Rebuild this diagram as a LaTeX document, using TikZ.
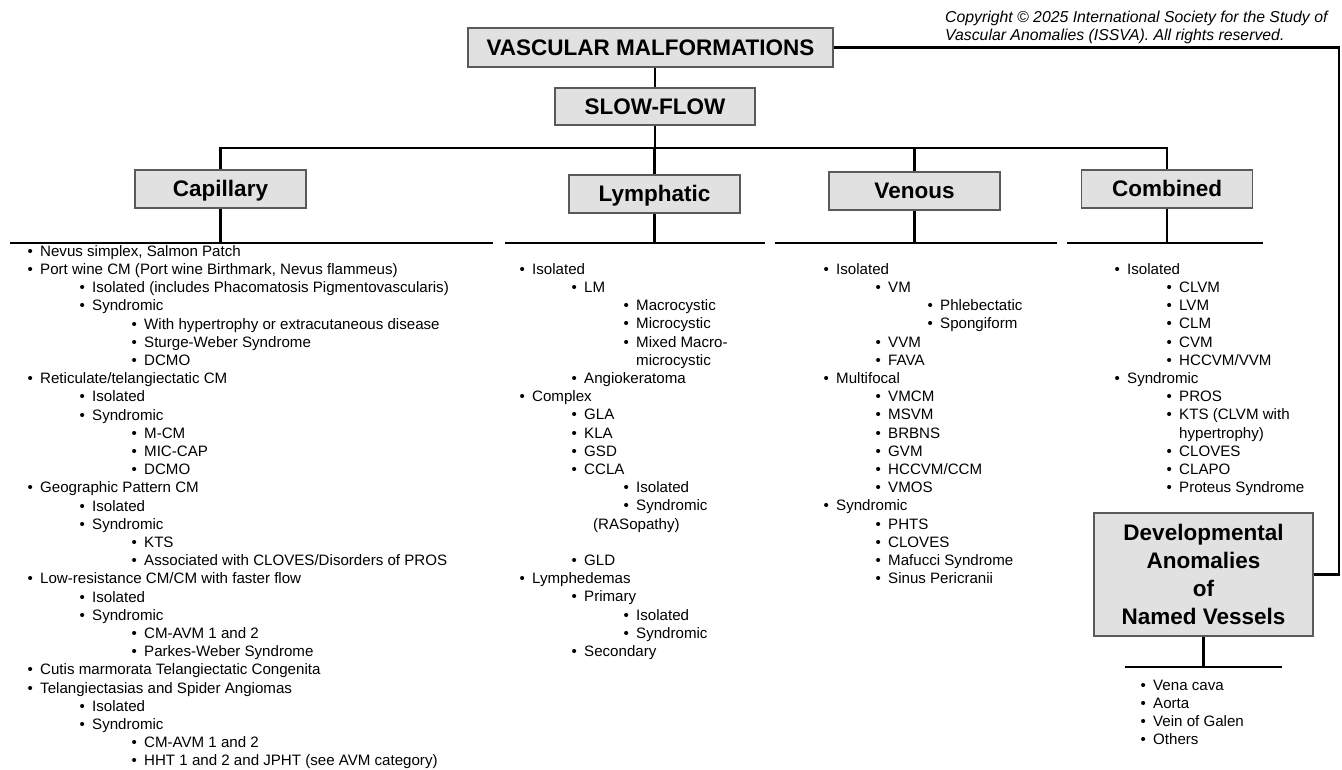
\documentclass[tikz,border=0pt]{standalone}
\usepackage{fontspec}
\setmainfont{Liberation Sans}
\usetikzlibrary{positioning,calc}

\definecolor{boxfill}{HTML}{E1E1E1}
\definecolor{boxline}{HTML}{5A5A5A}

% one bullet line of a list: indent, text
\newcommand{\li}[2]{\hspace*{#1pt}\makebox[12.6pt][l]{\textbullet}#2\strut}
% a wrapped line with no bullet
\newcommand{\cont}[2]{\hspace*{#1pt}#2\strut}

\begin{document}
\begin{tikzpicture}[
    x=1pt, y=-1pt,
    box/.style={draw=boxline, fill=boxfill, line width=1.2pt, inner sep=0pt, align=center,
      font=\fontsize{22.5}{28}\selectfont\bfseries},
    onebox/.style={box, text height=16pt, text depth=0pt},
    catbox/.style={onebox, minimum width=171pt, minimum height=38pt},
    link/.style={line width=2.8pt},
    list/.style={anchor=north west, inner sep=0pt, align=left, font=\fontsize{15.1}{18.2}\selectfont}
  ]
    \useasboundingbox (0,0) rectangle (1342,770);

    % Boxes
    \node[onebox, minimum width=365pt, minimum height=39pt] (vm) at (650.5,47.5) {VASCULAR MALFORMATIONS};
    \node[onebox, minimum width=200pt, minimum height=37pt] (slow) at (655,106.5) {SLOW-FLOW};
    \node[catbox] (cap) at (220.5,189) {Capillary};
    \node[catbox] (lym) at (654.5,194) {Lymphatic};
    \node[catbox] (ven) at (914.5,191) {Venous};
    \node[catbox] (com) at (1167,189) {Combined};
    \node[box, minimum width=219pt, minimum height=123pt] (dev) at (1203.5,574.5) {Developmental\\Anomalies\\of\\Named Vessels};

    % Copyright note
    \node[anchor=north west, inner sep=0pt, align=left, font=\fontsize{15.8}{18}\selectfont\itshape] (note) at (945,9.4)
      {\strut Copyright © 2025 International Society for the Study of\\\strut Vascular Anomalies (ISSVA). All rights reserved.};

    % Free ends of the connectors
    \coordinate (bus) at (655,148);
    \coordinate (rim) at (1339,47.5);
    \coordinate (capL) at (10,243);   \coordinate (capR) at (493,243);
    \coordinate (lymL) at (505,243);  \coordinate (lymR) at (765,243);
    \coordinate (venL) at (775,243);  \coordinate (venR) at (1057,243);
    \coordinate (comL) at (1067,243); \coordinate (comR) at (1263,243);
    \coordinate (devL) at (1125,667); \coordinate (devR) at (1282,667);

    % Connectors
    \draw[link] (slow.north) -- (slow.north |- vm.south);
    \draw[link] (slow.south) -- (bus);
    \draw[link] (cap.north) |- (bus) -| (com.north);
    \draw[link] (lym.north) -- (lym.north |- bus);
    \draw[link] (ven.north) -- (ven.north |- bus);
    \draw[link] (vm.east) -- (rim) |- (dev.east);

    % Underlines
    \draw[link] (capL) -- (capR);
    \draw[link] (lymL) -- (lymR);
    \draw[link] (venL) -- (venR);
    \draw[link] (comL) -- (comR);
    \draw[link] (devL) -- (devR);
    \draw[link] (cap.south) -- (cap.south |- capL);
    \draw[link] (lym.south) -- (lym.south |- lymL);
    \draw[link] (ven.south) -- (ven.south |- venL);
    \draw[link] (com.south) -- (com.south |- comL);
    \draw[link] (dev.south) -- (dev.south |- devL);

    % Lists
    \node[list] (caplist) at (27.4,243.3) {%
      \li{0}{Nevus simplex, Salmon Patch}\\
      \li{0}{Port wine CM (Port wine Birthmark, Nevus flammeus)}\\
      \li{52}{Isolated (includes Phacomatosis Pigmentovascularis)}\\
      \li{52}{Syndromic}\\
      \li{104}{With hypertrophy or extracutaneous disease}\\
      \li{104}{Sturge-Weber Syndrome}\\
      \li{104}{DCMO}\\
      \li{0}{Reticulate/telangiectatic CM}\\
      \li{52}{Isolated}\\
      \li{52}{Syndromic}\\
      \li{104}{M-CM}\\
      \li{104}{MIC-CAP}\\
      \li{104}{DCMO}\\
      \li{0}{Geographic Pattern CM}\\
      \li{52}{Isolated}\\
      \li{52}{Syndromic}\\
      \li{104}{KTS}\\
      \li{104}{Associated with CLOVES/Disorders of PROS}\\
      \li{0}{Low-resistance CM/CM with faster flow}\\
      \li{52}{Isolated}\\
      \li{52}{Syndromic}\\
      \li{104}{CM-AVM 1 and 2}\\
      \li{104}{Parkes-Weber Syndrome}\\
      \li{0}{Cutis marmorata Telangiectatic Congenita}\\
      \li{0}{Telangiectasias and Spider Angiomas}\\
      \li{52}{Isolated}\\
      \li{52}{Syndromic}\\
      \li{104}{CM-AVM 1 and 2}\\
      \li{104}{HHT 1 and 2 and JPHT (see AVM category)}};
    \node[list] (lymlist) at (519.4,261.3) {%
      \li{0}{Isolated}\\
      \li{52}{LM}\\
      \li{104}{Macrocystic}\\
      \li{104}{Microcystic}\\
      \li{104}{Mixed Macro-}\\
      \cont{116.6}{microcystic}\\
      \li{52}{Angiokeratoma}\\
      \li{0}{Complex}\\
      \li{52}{GLA}\\
      \li{52}{KLA}\\
      \li{52}{GSD}\\
      \li{52}{CCLA}\\
      \li{104}{Isolated}\\
      \li{104}{Syndromic}\\
      \cont{73.6}{(RASopathy)}\\
      \strut\\
      \li{52}{GLD}\\
      \li{0}{Lymphedemas}\\
      \li{52}{Primary}\\
      \li{104}{Isolated}\\
      \li{104}{Syndromic}\\
      \li{52}{Secondary}};
    \node[list] (venlist) at (823.4,261.3) {%
      \li{0}{Isolated}\\
      \li{52}{VM}\\
      \li{104}{Phlebectatic}\\
      \li{104}{Spongiform}\\
      \li{52}{VVM}\\
      \li{52}{FAVA}\\
      \li{0}{Multifocal}\\
      \li{52}{VMCM}\\
      \li{52}{MSVM}\\
      \li{52}{BRBNS}\\
      \li{52}{GVM}\\
      \li{52}{HCCVM/CCM}\\
      \li{52}{VMOS}\\
      \li{0}{Syndromic}\\
      \li{52}{PHTS}\\
      \li{52}{CLOVES}\\
      \li{52}{Mafucci Syndrome}\\
      \li{52}{Sinus Pericranii}};
    \node[list] (comlist) at (1114.4,261.3) {%
      \li{0}{Isolated}\\
      \li{52}{CLVM}\\
      \li{52}{LVM}\\
      \li{52}{CLM}\\
      \li{52}{CVM}\\
      \li{52}{HCCVM/VVM}\\
      \li{0}{Syndromic}\\
      \li{52}{PROS}\\
      \li{52}{KTS (CLVM with}\\
      \cont{64.6}{hypertrophy)}\\
      \li{52}{CLOVES}\\
      \li{52}{CLAPO}\\
      \li{52}{Proteus Syndrome}};
    \node[list] (devlist) at (1140.4,677.3) {%
      \li{0}{Vena cava}\\
      \li{0}{Aorta}\\
      \li{0}{Vein of Galen}\\
      \li{0}{Others}};
\end{tikzpicture}
\end{document}
